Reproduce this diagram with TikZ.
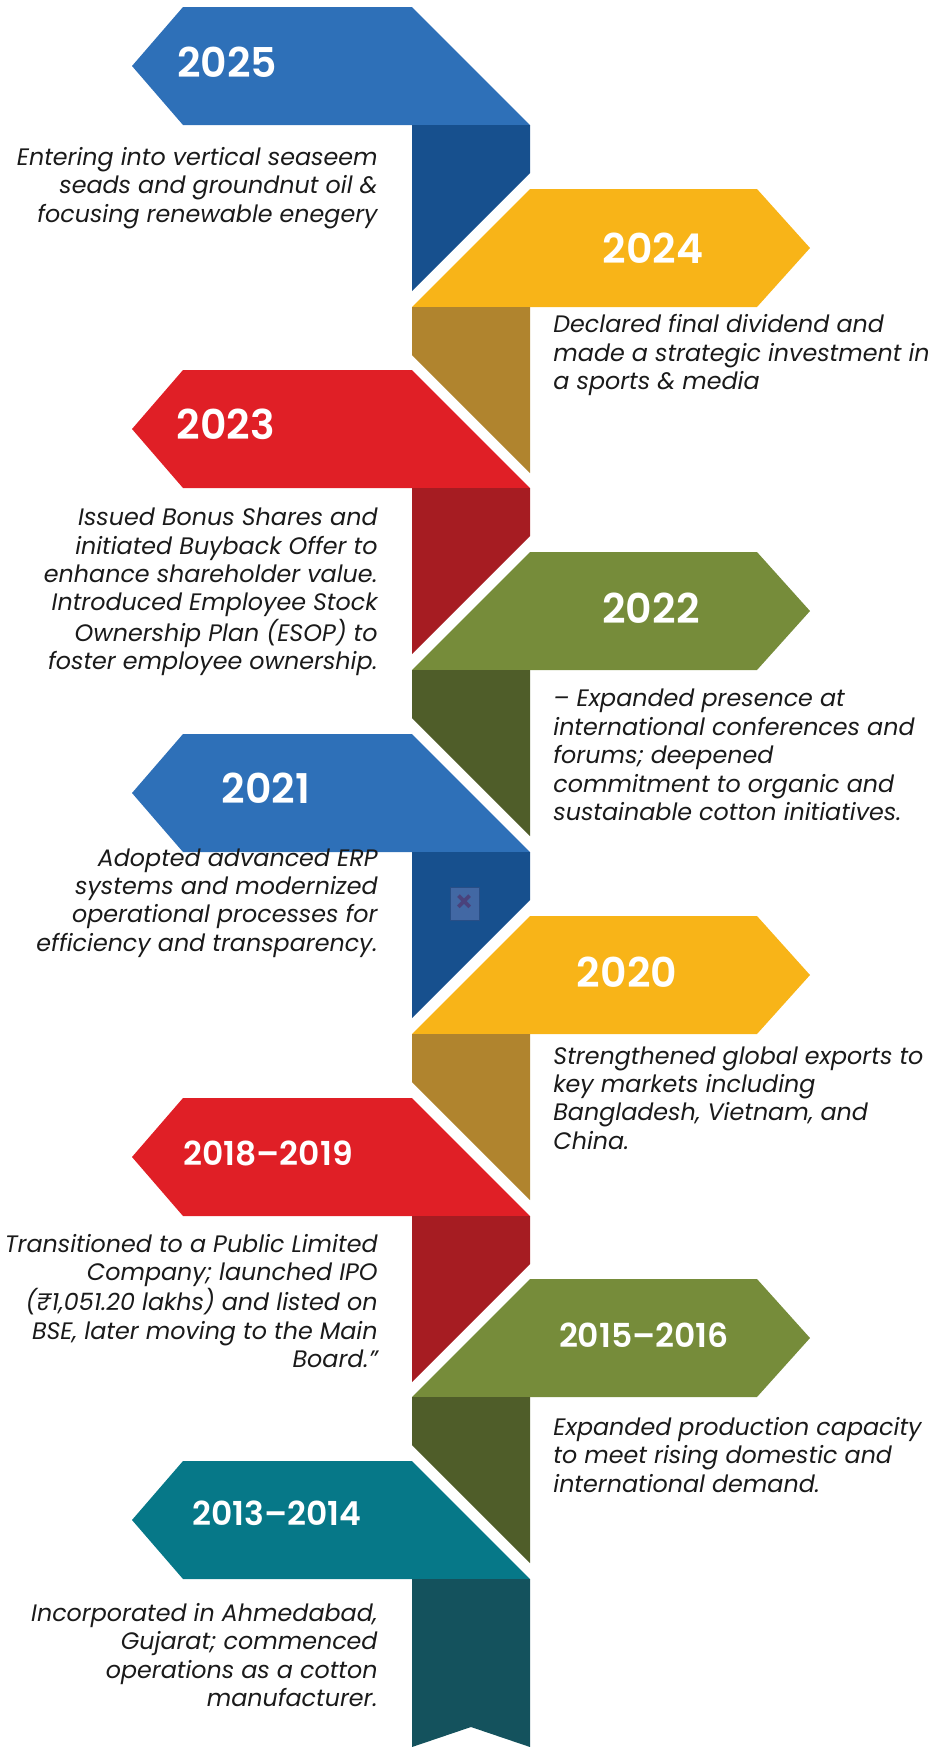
\documentclass[tikz,border=0pt]{standalone}
\usepackage{fontspec}
\setmainfont{Poppins}
\newfontfamily\yearfont{Poppins SemiBold}
\usepackage{tikz}
\usetikzlibrary{positioning}
\definecolor{blueband}{RGB}{46,112,184}
\definecolor{bluedark}{RGB}{23,80,142}
\definecolor{yellowband}{RGB}{248,180,24}
\definecolor{yellowdark}{RGB}{176,132,46}
\definecolor{redband}{RGB}{224,31,38}
\definecolor{reddark}{RGB}{166,28,34}
\definecolor{oliveband}{RGB}{118,140,58}
\definecolor{olivedark}{RGB}{79,93,41}
\definecolor{tealband}{RGB}{6,120,136}
\definecolor{tealdark}{RGB}{20,82,93}
\definecolor{notetext}{RGB}{26,26,26}
\definecolor{iconfill}{RGB}{66,104,164}
\definecolor{iconline}{RGB}{40,78,134}
\definecolor{iconmark}{RGB}{74,66,124}

\begin{document}
\begin{tikzpicture}[x=0.5pt, y=-0.5pt,
                    year/.style={text=white, font=\yearfont\fontsize{20.5}{24}\selectfont},
                    span/.style={text=white, font=\yearfont\fontsize{16.5}{20}\selectfont},
                    note/.style={text=notetext, inner sep=0pt, font=\itshape\fontsize{11.9}{14.2}\selectfont},
                    noteleft/.style={note, anchor=east, align=right},
                    noteright/.style={note, anchor=west, align=left},
                    brokenimg/.style={draw=iconline, fill=iconfill, inner sep=0pt, minimum width=14.5pt, minimum height=16.5pt, text=iconmark, font=\yearfont\fontsize{15}{15}\selectfont}]
                    \useasboundingbox (0,0) rectangle (937,1747);
                    \fill[blueband] (132,66) -- (183,7) -- (412,7) -- (530,125) -- (183,125) -- cycle;
                    \fill[bluedark] (412,125) -- (530,125) -- (530,173) -- (412,291) -- cycle;
                    \fill[yellowband] (412,307) -- (530,189) -- (757,189) -- (810,248) -- (757,307) -- cycle;
                    \fill[yellowdark] (412,307) -- (530,307) -- (530,473) -- (412,355) -- cycle;
                    \fill[redband] (132,429) -- (183,370) -- (412,370) -- (530,488) -- (183,488) -- cycle;
                    \fill[reddark] (412,488) -- (530,488) -- (530,536) -- (412,654) -- cycle;
                    \fill[oliveband] (412,670) -- (530,552) -- (757,552) -- (810,611) -- (757,670) -- cycle;
                    \fill[olivedark] (412,670) -- (530,670) -- (530,836) -- (412,718) -- cycle;
                    \fill[blueband] (132,793) -- (183,734) -- (412,734) -- (530,852) -- (183,852) -- cycle;
                    \fill[bluedark] (412,852) -- (530,852) -- (530,900) -- (412,1018) -- cycle;
                    \fill[yellowband] (412,1034) -- (530,916) -- (757,916) -- (810,975) -- (757,1034) -- cycle;
                    \fill[yellowdark] (412,1034) -- (530,1034) -- (530,1200) -- (412,1082) -- cycle;
                    \fill[redband] (132,1157) -- (183,1098) -- (412,1098) -- (530,1216) -- (183,1216) -- cycle;
                    \fill[reddark] (412,1216) -- (530,1216) -- (530,1264) -- (412,1382) -- cycle;
                    \fill[oliveband] (412,1397) -- (530,1279) -- (757,1279) -- (810,1338) -- (757,1397) -- cycle;
                    \fill[olivedark] (412,1397) -- (530,1397) -- (530,1563) -- (412,1445) -- cycle;
                    \fill[tealband] (132,1520) -- (183,1461) -- (412,1461) -- (530,1579) -- (183,1579) -- cycle;
                    \fill[tealdark] (412,1579) -- (530,1579) -- (530,1747) -- (471,1727) -- (412,1747) -- cycle;
                    \node [year] (y2025) at (227,62) {2025};
                    \node [year] (y2024) at (653,248) {2024};
                    \node [year] (y2023) at (226,424) {2023};
                    \node [year] (y2022) at (651,608) {2022};
                    \node [year] (y2021) at (266,788) {2021};
                    \node [year] (y2020) at (627,972) {2020};
                    \node [span] (y2018) at (268,1153) {2018–2019};
                    \node [span] (y2015) at (644,1335) {2015–2016};
                    \node [span] (y2013) at (277,1513) {2013–2014};
                    \node [brokenimg] (icon) at (464.5,903.5) {×};
                    \node [noteleft] (n2025) at (378,188) {Entering into vertical seaseem\\seads and groundnut oil \&\\focusing renewable enegery};
                    \node [noteright] (n2024) at (553,355) {Declared final dividend and\\made a strategic investment in\\a sports \& media};
                    \node [noteleft] (n2023) at (378,592) {Issued Bonus Shares and\\initiated Buyback Offer to\\enhance shareholder value.\\Introduced Employee Stock\\Ownership Plan (ESOP) to\\foster employee ownership.};
                    \node [noteright] (n2022) at (553,755) {– Expanded presence at\\international conferences and\\forums; deepened\\commitment to organic and\\sustainable cotton initiatives.};
                    \node [noteleft] (n2021) at (378,903) {Adopted advanced ERP\\systems and modernized\\operational processes for\\efficiency and transparency.};
                    \node [noteright] (n2020) at (553,1098) {Strengthened global exports to\\key markets including\\Bangladesh, Vietnam, and\\China.};
                    \node [noteleft] (n2018) at (378,1301) {Transitioned to a Public Limited\\Company; launched IPO\\(₹1,051.20 lakhs) and listed on\\BSE, later moving to the Main\\Board.”};
                    \node [noteright] (n2015) at (553,1455) {Expanded production capacity\\to meet rising domestic and\\international demand.};
                    \node [noteleft] (n2013) at (378,1655) {Incorporated in Ahmedabad,\\Gujarat; commenced\\operations as a cotton\\manufacturer.};
                \end{tikzpicture}
\end{document}
